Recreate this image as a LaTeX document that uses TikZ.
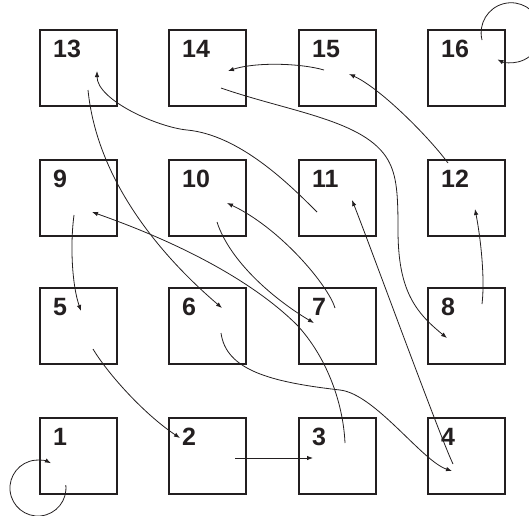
\documentclass[tikz,border=0pt]{standalone}
\usepackage{fontspec}
\setmainfont{Liberation Sans}
\usetikzlibrary{arrows.meta,calc}
\definecolor{ink}{HTML}{231F20}
\begin{document}
\begin{tikzpicture}[x=1pt,y=-1pt,
  box/.style={draw=ink,line width=2pt,minimum width=77pt,minimum height=76pt,inner sep=0pt},
  lbl/.style={font=\bfseries\fontsize{25}{25}\selectfont,text=ink,inner sep=0pt,anchor=base west},
  arr/.style={draw=ink,line width=0.8pt,-{Latex[length=6pt,width=4.5pt]}}]
\useasboundingbox (0,0) rectangle (529,515);
\clip (0,0) rectangle (529,515);
% boxes
\node[box] (b13) at (78.5,68) {};
\node[box] (b14) at (207.5,68) {};
\node[box] (b15) at (337.5,68) {};
\node[box] (b16) at (466.5,68) {};
\node[box] (b9) at (78.5,197.5) {};
\node[box] (b10) at (207.5,197.5) {};
\node[box] (b11) at (337.5,197.5) {};
\node[box] (b12) at (466.5,197.5) {};
\node[box] (b5) at (78.5,326) {};
\node[box] (b6) at (207.5,326) {};
\node[box] (b7) at (337.5,326) {};
\node[box] (b8) at (466.5,326) {};
\node[box] (b1) at (78.5,456) {};
\node[box] (b2) at (207.5,456) {};
\node[box] (b3) at (337.5,456) {};
\node[box] (b4) at (466.5,456) {};
% labels
\foreach \n in {1,...,16}{
  \node[lbl] (l\n) at ($(b\n.north west)+(14,28.5)$) {\n};
}
% connector end points
\coordinate (a11) at (65.8,485.1);
\coordinate (a23) at (235,458);   \coordinate (z23) at (313,458);
\coordinate (a39) at (345,443);   \coordinate (z39) at (92,212);
\coordinate (a411) at (453,464);  \coordinate (z411) at (352,200);
\coordinate (a52) at (93,349);    \coordinate (z52) at (180,438);
\coordinate (a64) at (221,333);   \coordinate (z64) at (452,471);
\coordinate (a710) at (335,308);  \coordinate (z710) at (227,203);
\coordinate (a107) at (217,222);  \coordinate (z107) at (314,323);
\coordinate (a1113) at (317,212); \coordinate (z1113) at (97,71);
\coordinate (a136) at (88,90);    \coordinate (z136) at (222,308);
\coordinate (a95) at (74,215);    \coordinate (z95) at (81,311);
\coordinate (a148) at (221,88);   \coordinate (z148) at (447,338);
\coordinate (a1514) at (324,70);  \coordinate (z1514) at (228,71);
\coordinate (a1215) at (448,163); \coordinate (z1215) at (349,74);
\coordinate (a812) at (482,304);  \coordinate (z812) at (475,209);
\coordinate (a1616) at (482,40);
% connectors
\draw[arr] (a11) arc[start angle=-6, end angle=297.5, radius=28];
\draw[arr] (a23) -- (z23);
\draw[arr] (a39) .. controls (343,400) and (325,355) .. (297,325)
                 .. controls (263,291) and (200,250) .. (z39);
\draw[arr] (a411) .. controls (440,437) and (368,240) .. (z411);
\draw[arr] (a52) .. controls (108,374) and (144,414) .. (z52);
\draw[arr] (a64) .. controls (226,370) and (270,382) .. (340,390)
                 .. controls (375,394) and (422,461) .. (z64);
\draw[arr] (a710) .. controls (328,285) and (280,228) .. (z710);
\draw[arr] (a107) .. controls (230,262) and (275,300) .. (z107);
\draw[arr] (a1113) .. controls (290,185) and (240,135) .. (187,130)
                   .. controls (157,127) and (97,100) .. (z1113);
\draw[arr] (a136) .. controls (97,180) and (160,255) .. (z136);
\draw[arr] (a95) .. controls (70,245) and (72,285) .. (z95);
\draw[arr] (a148) .. controls (290,112) and (365,120) .. (388,160)
                  .. controls (397,176) and (398,195) .. (398,230)
                  .. controls (398,290) and (415,312) .. (z148);
\draw[arr] (a1514) .. controls (300,63) and (255,62) .. (z1514);
\draw[arr] (a1215) .. controls (428,136) and (380,88) .. (z1215);
\draw[arr] (a812) .. controls (485,280) and (481,240) .. (z812);
\draw[arr] (a1616) arc[start angle=166, end angle=477, radius=30];
\end{tikzpicture}
\end{document}
